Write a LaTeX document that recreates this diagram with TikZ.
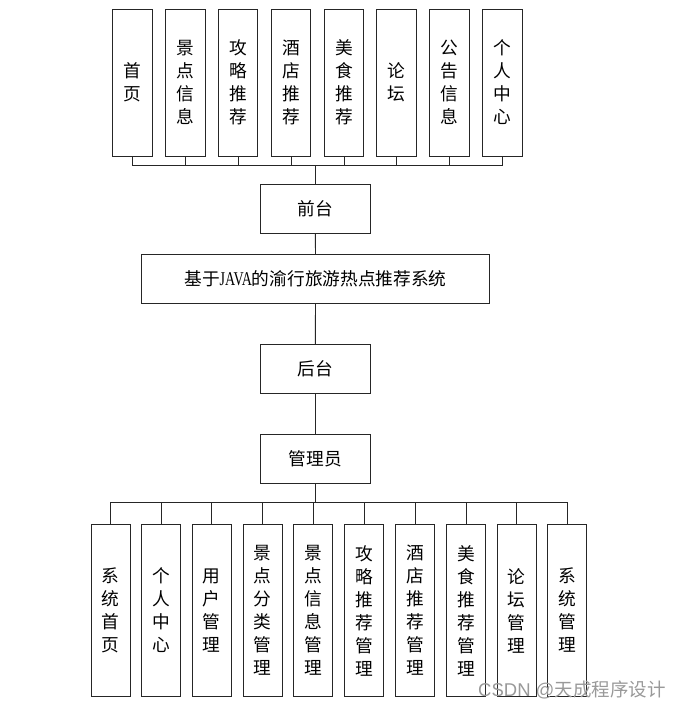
\documentclass[tikz,border=0pt]{standalone}
\usepackage{fontspec}
\setmainfont{Noto Sans CJK SC}
\newfontfamily\cjk{Noto Sans CJK SC}
\newfontfamily\wmfont{Liberation Sans}
\newfontfamily\latinserif[FakeStretch=0.72]{Liberation Serif}
\begin{document}
\begin{tikzpicture}[x=1pt,y=-1pt,
  box/.style={draw=black!85, line width=0.9pt, inner sep=0pt, align=center,
    font=\cjk\fontsize{17.7}{23}\selectfont},
  tallbox/.style={box, minimum width=39.5pt, minimum height=147pt},
  lowbox/.style={box, minimum width=39pt, minimum height=172.5pt},
  midbox/.style={box, minimum width=110pt, minimum height=49pt},
  link/.style={draw=black!85, line width=0.9pt}]
\useasboundingbox (0,0) rectangle (685,708);
% top row
\node[tallbox] (t1) at (132.5,82.5) {首\\页};
\node[tallbox] (t2) at (185.4,82.5) {景\\点\\信\\息};
\node[tallbox] (t3) at (238.1,82.5) {攻\\略\\推\\荐};
\node[tallbox] (t4) at (291.1,82.5) {酒\\店\\推\\荐};
\node[tallbox] (t5) at (344.0,82.5) {美\\食\\推\\荐};
\node[tallbox] (t6) at (396.6,82.5) {论\\坛};
\node[tallbox] (t7) at (449.5,82.5) {公\\告\\信\\息};
\node[tallbox] (t8) at (502.3,82.5) {个\\人\\中\\心};
% middle column
\node[midbox] (qt) at (315.3,208.7) {前台};
\node[box, minimum width=347.6pt, minimum height=49pt] (sys) at (315.5,278.8) {基于{\latinserif\fontsize{19.5}{23}\selectfont JAVA}的渝行旅游热点推荐系统};
\node[midbox] (ht) at (315.3,369) {后台};
\node[midbox] (gly) at (315.3,459.2) {管理员};
% bottom row
\node[lowbox] (b1) at (110.5,610.5) {系\\统\\首\\页};
\node[lowbox] (b2) at (161.0,610.5) {个\\人\\中\\心};
\node[lowbox] (b3) at (211.8,610.5) {用\\户\\管\\理};
\node[lowbox] (b4) at (262.5,610.5) {景\\点\\分\\类\\管\\理};
\node[lowbox] (b5) at (313.3,610.5) {景\\点\\信\\息\\管\\理};
\node[lowbox] (b6) at (364.3,610.5) {攻\\略\\推\\荐\\管\\理};
\node[lowbox] (b7) at (415.3,610.5) {酒\\店\\推\\荐\\管\\理};
\node[lowbox] (b8) at (466.0,610.5) {美\\食\\推\\荐\\管\\理};
\node[lowbox] (b9) at (516.6,610.5) {论\\坛\\管\\理};
\node[lowbox] (b10) at (567.2,610.5) {系\\统\\管\\理};
% buses
\coordinate (bus1) at (315.3,165.7);
\coordinate (bus2) at (315.3,502.3);
\foreach \n in {t1,t2,t3,t4,t5,t6,t7,t8} \draw[link] (\n.south) |- (bus1);
\draw[link] (bus1) -- (qt.north);
\draw[link] (qt.south) -- (sys.north);
\draw[link] (sys.south) -- (ht.north);
\draw[link] (ht.south) -- (gly.north);
\draw[link] (gly.south) -- (bus2);
\foreach \n in {b1,b2,b3,b4,b5,b6,b7,b8,b9,b10} \draw[link] (\n.north) |- (bus2);
% watermark
\node[anchor=west, inner sep=0pt, text=black!40, font=\fontsize{18.5}{18.5}\selectfont] (wm) at (478,690) {{\wmfont CSDN @}{\cjk 天成程序设计}};
\end{tikzpicture}
\end{document}
